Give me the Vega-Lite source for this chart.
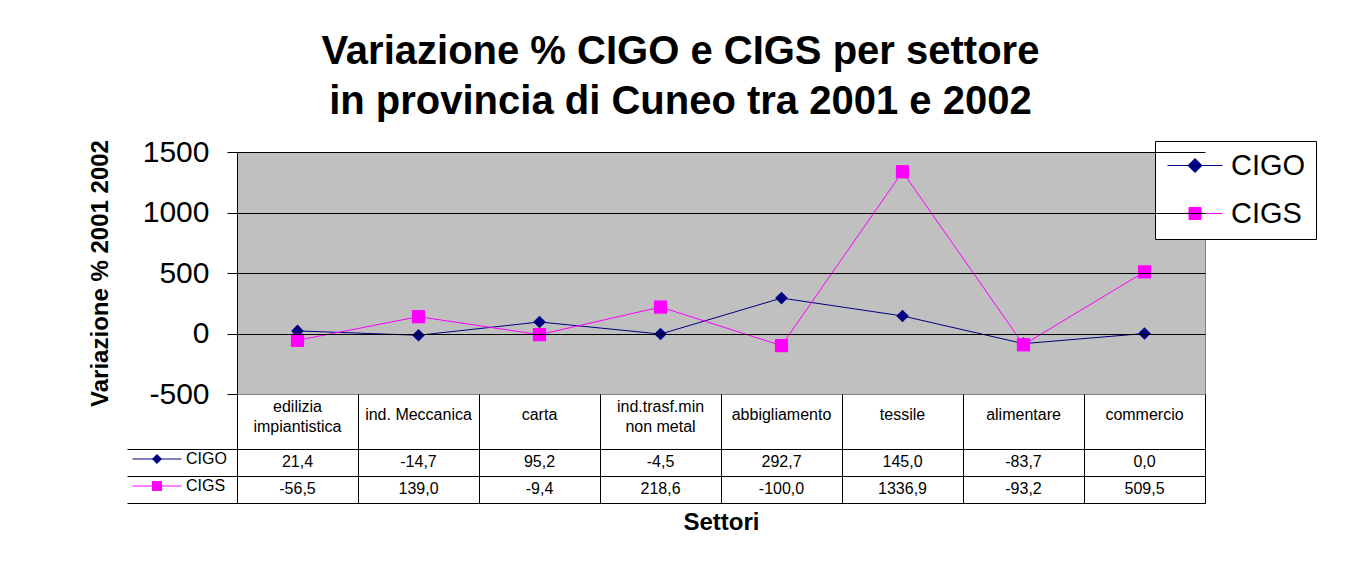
{
  "$schema": "https://vega.github.io/schema/vega-lite/v6.json",
  "background": "white",
  "padding": {"left": 87, "top": 31, "right": 36, "bottom": 45},
  "title": {
    "text": ["Variazione % CIGO e CIGS per settore", "in provincia di Cuneo tra 2001 e 2002"],
    "fontSize": 40,
    "fontWeight": "bold",
    "lineHeight": 50,
    "anchor": "middle",
    "color": "black",
    "offset": 15,
    "dx": -22
  },
  "datasets": {
    "cig": [
      {"settore": "edilizia\nimpiantistica", "serie": "CIGO", "valore": 21.4},
      {"settore": "ind. Meccanica", "serie": "CIGO", "valore": -14.7},
      {"settore": "carta", "serie": "CIGO", "valore": 95.2},
      {"settore": "ind.trasf.min\nnon metal", "serie": "CIGO", "valore": -4.5},
      {"settore": "abbigliamento", "serie": "CIGO", "valore": 292.7},
      {"settore": "tessile", "serie": "CIGO", "valore": 145.0},
      {"settore": "alimentare", "serie": "CIGO", "valore": -83.7},
      {"settore": "commercio", "serie": "CIGO", "valore": 0.0},
      {"settore": "edilizia\nimpiantistica", "serie": "CIGS", "valore": -56.5},
      {"settore": "ind. Meccanica", "serie": "CIGS", "valore": 139.0},
      {"settore": "carta", "serie": "CIGS", "valore": -9.4},
      {"settore": "ind.trasf.min\nnon metal", "serie": "CIGS", "valore": 218.6},
      {"settore": "abbigliamento", "serie": "CIGS", "valore": -100.0},
      {"settore": "tessile", "serie": "CIGS", "valore": 1336.9},
      {"settore": "alimentare", "serie": "CIGS", "valore": -93.2},
      {"settore": "commercio", "serie": "CIGS", "valore": 509.5}
    ]
  },
  "data": {"name": "cig"},
  "spacing": 0,
  "bounds": "flush",
  "resolve": {
    "scale": {"x": "independent", "y": "independent", "shape": "independent", "fill": "independent", "stroke": "independent"},
    "legend": {"shape": "independent", "fill": "independent", "stroke": "independent"}
  },
  "vconcat": [
    {
      "width": 968,
      "height": 242,
      "layer": [
        {
          "mark": {"type": "rect", "color": "#C0C0C0"},
          "encoding": {
            "y": {"datum": -500, "type": "quantitative"},
            "y2": {"datum": 1500}
          }
        },
        {
          "transform": [{"filter": "datum.serie === 'CIGO'"}],
          "mark": {"type": "line", "strokeWidth": 1, "color": "#000080"},
          "encoding": {
            "x": {
              "field": "settore",
              "type": "nominal",
              "scale": {"type": "point", "padding": 0.5, "domain": ["edilizia\nimpiantistica", "ind. Meccanica", "carta", "ind.trasf.min\nnon metal", "abbigliamento", "tessile", "alimentare", "commercio"]},
              "axis": null
            },
            "y": {
              "field": "valore",
              "type": "quantitative",
              "scale": {"domain": [-500, 1500], "nice": false, "zero": false},
              "axis": {
                "values": [-500, 0, 500, 1000, 1500],
                "format": "d",
                "title": "Variazione % 2001 2002",
                "titleFontSize": 24,
                "titleFontWeight": "bold",
                "titleColor": "black",
                "titlePadding": 30,
                "labelFontSize": 30,
                "labelColor": "black",
                "labelPadding": 18,
                "tickSize": 10,
                "tickColor": "black",
                "domainColor": "black",
                "grid": true,
                "gridColor": "black",
                "gridOpacity": 1,
                "zindex": 1
              }
            },
            "order": {"value": null}
          }
        },
        {
          "transform": [{"filter": "datum.serie === 'CIGS'"}],
          "mark": {"type": "line", "strokeWidth": 1, "color": "#FF00FF"},
          "encoding": {
            "x": {"field": "settore", "type": "nominal"},
            "y": {"field": "valore", "type": "quantitative"},
            "order": {"value": null}
          }
        },
        {
          "transform": [{"filter": "datum.serie === 'CIGO'"}],
          "mark": {"type": "point", "filled": true, "shape": "diamond", "size": 160, "opacity": 1, "color": "#000080"},
          "encoding": {
            "x": {"field": "settore", "type": "nominal"},
            "y": {"field": "valore", "type": "quantitative"}
          }
        },
        {
          "transform": [{"filter": "datum.serie === 'CIGS'"}],
          "mark": {"type": "point", "filled": true, "shape": "square", "size": 175, "opacity": 1, "color": "#FF00FF"},
          "encoding": {
            "x": {"field": "settore", "type": "nominal"},
            "y": {"field": "valore", "type": "quantitative"}
          }
        },
        {
          "transform": [{"filter": "false"}],
          "mark": {"type": "point", "filled": true, "opacity": 1},
          "encoding": {
            "fill": {
              "field": "serie", "type": "nominal",
              "scale": {"domain": ["CIGO", "CIGS"], "range": ["#000080", "#FF00FF"]},
              "legend": {"orient": "none", "legendX": 918, "legendY": -11, "title": null}
            },
            "stroke": {
              "field": "serie", "type": "nominal",
              "scale": {"domain": ["CIGO", "CIGS"], "range": ["#000080", "#FF00FF"]},
              "legend": {"orient": "none", "legendX": 918, "legendY": -11, "title": null}
            },
            "shape": {
              "field": "serie", "type": "nominal",
              "scale": {"domain": ["CIGO", "CIGS"], "range": ["M-2.75,0L2.75,0M0,-0.7L0.7,0L0,0.7L-0.7,0Z", "M-2.75,0L2.75,0M-0.6,-0.6L0.6,-0.6L0.6,0.6L-0.6,0.6Z"]},
              "legend": {
                "orient": "none",
                "legendX": 918,
                "legendY": -11,
                "title": null,
                "strokeColor": "black",
                "fillColor": "white",
                "padding": 10,
                "labelFontSize": 29,
                "labelColor": "black",
                "symbolSize": 400,
                "symbolOffset": 15.5,
                "labelOffset": 21.5,
                "rowPadding": 18,
                "symbolStrokeWidth": 1,
                "symbolOpacity": 1
              }
            }
          }
        }
      ]
    },
    {
      "width": 968,
      "height": 109,
      "layer": [
        {
          "transform": [{"filter": "datum.serie === 'CIGO' && indexof(datum.settore, '\\n') < 0"}],
          "mark": {"type": "text", "fontSize": 16, "baseline": "middle", "dy": -6, "color": "black"},
          "encoding": {
            "x": {
              "field": "settore",
              "type": "nominal",
              "scale": {"type": "band", "paddingInner": 0, "paddingOuter": 0, "domain": ["edilizia\nimpiantistica", "ind. Meccanica", "carta", "ind.trasf.min\nnon metal", "abbigliamento", "tessile", "alimentare", "commercio"]},
              "axis": {
                "labels": false,
                "ticks": false,
                "domain": false,
                "grid": true,
                "gridColor": "black",
                "gridOpacity": 1,
                "tickBand": "extent",
                "title": "Settori",
                "titleFontSize": 24,
                "titleFontWeight": "bold",
                "titleColor": "black",
                "titlePadding": 7
              }
            },
            "text": {"field": "settore", "type": "nominal"},
            "y": {"datum": "h2", "type": "nominal", "bandPosition": 0}
          }
        },
        {
          "transform": [{"filter": "datum.serie === 'CIGO' && indexof(datum.settore, '\\n') >= 0"}],
          "mark": {"type": "text", "fontSize": 16, "lineBreak": "\n", "lineHeight": 20, "baseline": "middle", "dy": -14, "color": "black"},
          "encoding": {
            "x": {"field": "settore", "type": "nominal"},
            "text": {"field": "settore", "type": "nominal"},
            "y": {"datum": "h2", "type": "nominal", "bandPosition": 0}
          }
        },
        {
          "mark": {"type": "text", "fontSize": 16, "baseline": "middle", "color": "black"},
          "encoding": {
            "x": {"field": "settore", "type": "nominal"},
            "text": {"field": "valore", "type": "quantitative", "format": ".1f"},
            "y": {
              "field": "serie",
              "type": "nominal",
              "scale": {"type": "band", "paddingInner": 0, "paddingOuter": 0, "domain": ["h1", "h2", "CIGO", "CIGS"]},
              "axis": {
                "orient": "left",
                "values": ["CIGO", "CIGS"],
                "tickBand": "extent",
                "tickSize": 110,
                "tickColor": "black",
                "labels": false,
                "domain": false,
                "grid": true,
                "gridColor": "black",
                "gridOpacity": 1,
                "title": null
              }
            }
          }
        },
        {
          "transform": [{"filter": "false"}],
          "mark": {"type": "point", "filled": true, "opacity": 1},
          "encoding": {
            "fill": {
              "field": "serie", "type": "nominal",
              "scale": {"domain": ["CIGO", "CIGS"], "range": ["#000080", "#FF00FF"]},
              "legend": {"orient": "none", "legendX": -88, "legendY": 57, "title": null}
            },
            "stroke": {
              "field": "serie", "type": "nominal",
              "scale": {"domain": ["CIGO", "CIGS"], "range": ["#000080", "#FF00FF"]},
              "legend": {"orient": "none", "legendX": -88, "legendY": 57, "title": null}
            },
            "shape": {
              "field": "serie", "type": "nominal",
              "scale": {"domain": ["CIGO", "CIGS"], "range": ["M-3.5,0L3.5,0M0,-0.64L0.64,0L0,0.64L-0.64,0Z", "M-3.5,0L3.5,0M-0.64,-0.64L0.64,-0.64L0.64,0.64L-0.64,0.64Z"]},
              "legend": {
                "orient": "none",
                "legendX": -88,
                "legendY": 57,
                "title": null,
                "padding": 0,
                "labelFontSize": 16,
                "labelColor": "black",
                "symbolSize": 196,
                "labelOffset": 21,
                "rowPadding": 11,
                "symbolStrokeWidth": 1,
                "symbolOpacity": 1
              }
            }
          }
        }
      ]
    }
  ],
  "config": {
    "font": "Liberation Sans",
    "view": {"stroke": "#808080"},
    "locale": {
      "number": {"decimal": ",", "thousands": ".", "grouping": [3], "currency": ["", " €"], "minus": "-"}
    },
    "text": {"font": "Liberation Sans", "color": "black"},
    "axis": {"labelFont": "Liberation Sans", "titleFont": "Liberation Sans"},
    "legend": {"labelFont": "Liberation Sans"},
    "title": {"font": "Liberation Sans"}
  }
}
